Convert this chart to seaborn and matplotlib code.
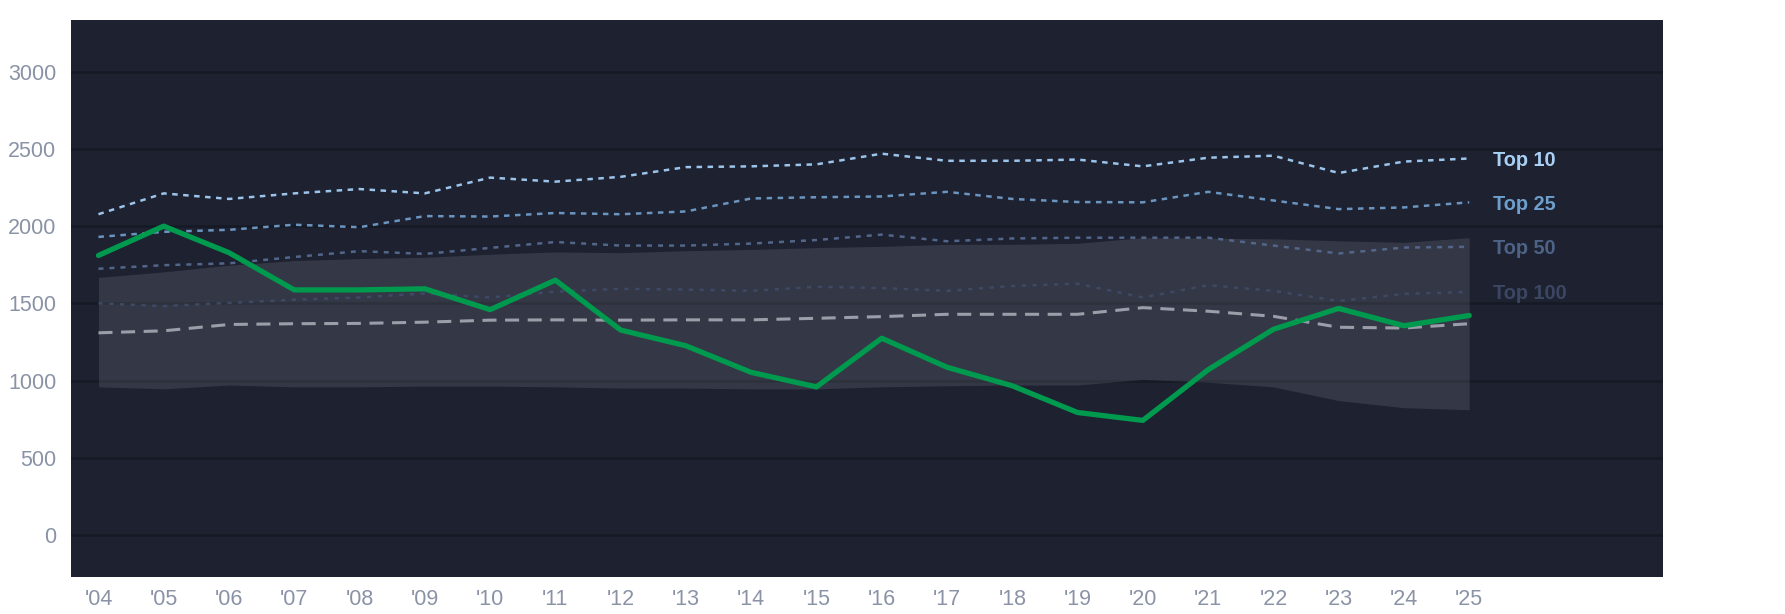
import numpy as np
import pandas as pd
import matplotlib
matplotlib.use("Agg")
import matplotlib.pyplot as plt
import seaborn as sns

# Chart data
years = list(range(2004, 2026))
year_labels = ["'" + str(y)[2:] for y in years]

player = [1810, 2000, 1828, 1587, 1587, 1594, 1459, 1650, 1327, 1225, 1053,
          959, 1274, 1086, 966, 793, 742, 1070, 1332, 1467, 1355, 1421]
top10 = [2077, 2212, 2176, 2212, 2240, 2212, 2314, 2288, 2319, 2382, 2387,
         2400, 2469, 2423, 2423, 2431, 2387, 2443, 2456, 2344, 2418, 2438]
top25 = [1930, 1963, 1976, 2009, 1993, 2065, 2062, 2085, 2077, 2095, 2179,
         2187, 2192, 2222, 2176, 2156, 2154, 2222, 2166, 2110, 2121, 2154]
top50 = [1724, 1747, 1759, 1800, 1838, 1820, 1859, 1897, 1874, 1874, 1887,
         1910, 1945, 1902, 1920, 1925, 1925, 1925, 1874, 1823, 1861, 1866]
top100 = [1500, 1482, 1503, 1523, 1538, 1564, 1538, 1576, 1594, 1589, 1581,
          1607, 1599, 1581, 1612, 1627, 1538, 1617, 1581, 1515, 1561, 1574]
median = [1309, 1322, 1363, 1368, 1370, 1378, 1391, 1393, 1391, 1393, 1393,
          1403, 1414, 1429, 1429, 1429, 1472, 1449, 1416, 1345, 1340, 1368]
band_hi = [1668, 1704, 1747, 1777, 1790, 1798, 1818, 1833, 1828, 1841, 1849,
           1861, 1869, 1882, 1882, 1889, 1925, 1922, 1918, 1905, 1895, 1925]
band_lo = [959, 946, 971, 959, 959, 964, 964, 959, 951, 951, 946,
           946, 959, 966, 971, 971, 1007, 989, 959, 870, 824, 811]

tier_names = ["Top 10", "Top 25", "Top 50", "Top 100"]
y_ticks = [0, 500, 1000, 1500, 2000, 2500, 3000]

df = pd.DataFrame({
    "year": years, "player": player, "Top 10": top10, "Top 25": top25,
    "Top 50": top50, "Top 100": top100, "median": median,
    "hi": band_hi, "lo": band_lo,
})

bg = "#1d2130"
sns.set_style("dark", {
    "axes.facecolor": bg,
    "figure.facecolor": "white",
    "axes.edgecolor": bg,
    "grid.color": "#161a25",
})
plt.rcParams["font.family"] = ["Liberation Sans", "DejaVu Sans"]

fig = plt.figure(figsize=(17.85, 6.14), dpi=100)
ax = fig.add_axes([0.0398, 0.0603, 0.8919, 0.9072])

# shaded range
ax.fill_between(df["year"], df["lo"], df["hi"], color="white", alpha=0.1,
                linewidth=0, zorder=1)

# tier lines
line_colors = {"Top 10": "#9cc4ea", "Top 25": "#6a95c0",
               "Top 50": "#52668a", "Top 100": "#3d4965"}
label_colors = {"Top 10": "#a9d0f5", "Top 25": "#6e9fcc",
                "Top 50": "#4d6285", "Top 100": "#3b4762"}
line_dash = {"Top 10": (0, (2.2, 2.2)), "Top 25": (0, (2.2, 2.2)),
             "Top 50": (0, (2.0, 2.4)), "Top 100": (0, (1.7, 2.6))}

for name in tier_names[::-1]:
    sns.lineplot(data=df, x="year", y=name, ax=ax, color=line_colors[name],
                 linewidth=1.8, linestyle=line_dash[name], zorder=2)
    ax.text(2025.37, df[name].iloc[-1], name, color=label_colors[name],
            fontsize=14.3, fontweight="bold", va="center_baseline", ha="left")

# median
sns.lineplot(data=df, x="year", y="median", ax=ax, color="#9a9ea8",
             linewidth=2.2, linestyle=(0, (4.6, 2.8)), zorder=3)

# player line
sns.lineplot(data=df, x="year", y="player", ax=ax, color="#009a4e",
             linewidth=3.8, zorder=4)

ax.set_xlim(2003.58, 2027.97)
ax.set_ylim(-272, 3335)
ax.set_xticks(years)
ax.set_xticklabels(year_labels)
ax.set_yticks(y_ticks)
ax.set_yticklabels([str(t) for t in y_ticks])
ax.grid(axis="y", linewidth=1.8)
ax.grid(axis="x", visible=False)
ax.set_axisbelow(True)
ax.set_xlabel("")
ax.set_ylabel("")
ax.tick_params(axis="both", length=0, labelsize=15.5, labelcolor="#8a93a6")
ax.tick_params(axis="x", pad=8.5)
ax.tick_params(axis="y", pad=10.5)
for s in ax.spines.values():
    s.set_visible(False)

fig.savefig("out.png", dpi=100)
